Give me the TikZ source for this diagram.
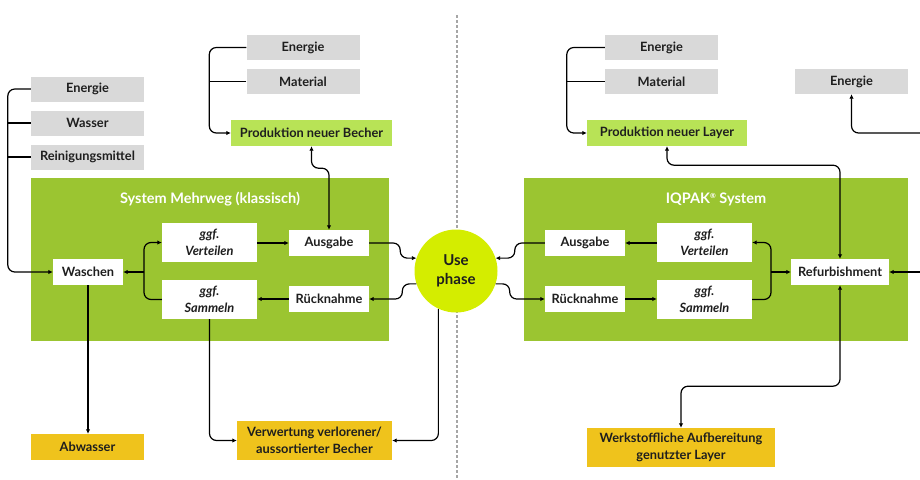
\documentclass[tikz,border=0pt]{standalone}
\usepackage{fontspec}
\setmainfont{Lato}
\usetikzlibrary{arrows.meta,calc}

\definecolor{boxgrey}{HTML}{D9D9D9}
\definecolor{sysgreen}{HTML}{9BC531}
\definecolor{prodgreen}{HTML}{B8E356}
\definecolor{usegreen}{HTML}{D4ED00}
\definecolor{outyellow}{HTML}{EFC31C}
\definecolor{divgrey}{HTML}{A6A6A6}
\definecolor{txt}{HTML}{1E1E1E}

\tikzset{
  base/.style={inner sep=0pt, align=center, text=txt,
    font=\bfseries\fontsize{12.8}{16.5}\selectfont},
  inbox/.style={base, fill=boxgrey, minimum width=113pt, minimum height=25pt},
  prodbox/.style={base, fill=prodgreen, minimum height=26pt},
  stepbox/.style={base, fill=white, minimum height=26pt},
  ggfbox/.style={base, fill=white, minimum width=95pt, minimum height=39pt,
    font=\bfseries\itshape\fontsize{12.8}{16.5}\selectfont},
  outbox/.style={base, fill=outyellow},
  sysbox/.style={fill=sysgreen, inner sep=0pt},
  systitle/.style={base, text=white, font=\bfseries\fontsize{14.5}{17}\selectfont},
  flow/.style={line width=1.2pt, rounded corners=7pt},
  tip/.style={-{Latex[length=4.5pt,width=4.5pt]}},
  tips/.style={{Latex[length=4.5pt,width=4.5pt]}-{Latex[length=4.5pt,width=4.5pt]}}
}

\begin{document}
\begin{tikzpicture}[x=1pt,y=-1pt]
  \useasboundingbox (0,0) rectangle (920,479);

  \draw[divgrey, line width=1.2pt, dash pattern=on 3pt off 2pt] (457,15) -- (457,479);

  \node[sysbox, minimum width=358pt, minimum height=163pt] (sysL) at (210,259.5) {};
  \node[sysbox, minimum width=384pt, minimum height=163pt] (sysR) at (716,259.5) {};
  \node[systitle] (titleL) at (210,199) {System Mehrweg (klassisch)};
  \node[systitle] (titleR) at (716,199)
    {IQPAK\raisebox{4.5pt}{\fontsize{7}{7}\selectfont ®} System};

  \node[inbox] (enL) at (87.5,89) {Energie};
  \node[inbox] (wa) at (87.5,123) {Wasser};
  \node[inbox] (rm) at (87.5,157) {Reinigungsmittel};
  \node[inbox] (enB) at (303,47.5) {Energie};
  \node[inbox] (maB) at (303,81.5) {Material};
  \node[prodbox, minimum width=161pt] (prodB) at (311.5,133) {Produktion neuer Becher};

  \node[stepbox, minimum width=70pt] (wasch) at (88,272) {Waschen};
  \node[ggfbox] (vertL) at (209.5,242.5) {ggf.\\Verteilen};
  \node[ggfbox] (sammL) at (209.5,299.5) {ggf.\\Sammeln};
  \node[stepbox, minimum width=80pt] (ausL) at (329,243) {Ausgabe};
  \node[stepbox, minimum width=80pt] (rueckL) at (329,299) {Rücknahme};

  \node[base, circle, fill=usegreen, minimum size=83pt,
    font=\bfseries\fontsize{15}{19}\selectfont] (use) at (456,271) {Use\\phase};

  \node[outbox, minimum width=113pt, minimum height=26pt] (abw) at (87.5,447) {Abwasser};
  \node[outbox, minimum width=155pt, minimum height=39pt] (verw) at (314.5,440.5)
    {Verwertung verlorener/\\aussortierter Becher};

  \node[inbox] (enR) at (661.5,47.5) {Energie};
  \node[inbox] (maR) at (661.5,81.5) {Material};
  \node[prodbox, minimum width=160pt] (prodL) at (667,133) {Produktion neuer Layer};
  \node[inbox] (enRef) at (851.5,81.5) {Energie};

  \node[stepbox, minimum width=80pt] (ausR) at (585,243) {Ausgabe};
  \node[stepbox, minimum width=80pt] (rueckR) at (585,299) {Rücknahme};
  \node[ggfbox] (vertR) at (704.5,242.5) {ggf.\\Verteilen};
  \node[ggfbox] (sammR) at (704.5,299.5) {ggf.\\Sammeln};
  \node[stepbox, minimum width=98pt] (refurb) at (840,272) {Refurbishment};

  \node[outbox, minimum width=188pt, minimum height=39pt] (werk) at (681,447.5)
    {Werkstoffliche Aufbereitung\\genutzter Layer};

  \coordinate (jL) at (144,272);
  \coordinate (jR) at (771,272);
  \coordinate (edgeA) at (920,133);
  \coordinate (edgeB) at (920,272);

  \draw[flow, tip] (enL.west) -- ++(-23,0) |- (wasch.west);
  \draw[flow] (wa.west) -- ++(-23,0);
  \draw[flow] (rm.west) -- ++(-23,0);
  \draw[flow, tip] (enB.west) -- ++(-37,0) |- (prodB.west);
  \draw[flow] (maB.west) -- ++(-37,0);
  \draw[flow, tips] (prodB.south) -- ++(0,22) -| (ausL.north);

  \draw[flow, tip] (vertL.east |- ausL.west) -- (ausL.west);
  \draw[flow, tip] (rueckL.west) -- (sammL.east |- rueckL.west);
  \draw[flow, tip] (sammL.west) -| (jL) |- (vertL.west);
  \draw[flow, tip] (jL) -- (wasch.east);
  \draw[flow, tip] (ausL.east) -- ++(31,0) |- (use.162);
  \draw[flow, tip] (use.198) -- ++(-14,0) |- (rueckL.east);

  \draw[flow, tip] (wasch.south) -- (wasch.south |- abw.north);
  \draw[flow, tip] (sammL.south) |- (verw.west);
  \draw[flow, tip] (use.245) |- (verw.east);

  \draw[flow, tip] (enR.west) -- ++(-38,0) |- (prodL.west);
  \draw[flow] (maR.west) -- ++(-38,0);
  \draw[flow, tip] (edgeA) -| (enRef.south);

  \draw[flow, tip] (ausR.west) -- ++(-30,0) |- (use.18);
  \draw[flow, tip] (use.-18) -- ++(14,0) |- (rueckR.west);
  \draw[flow, tip] (vertR.west |- ausR.east) -- (ausR.east);
  \draw[flow, tip] (rueckR.east) -- (sammR.west |- rueckR.east);
  \draw[flow, tip] (sammR.east) -| (jR) |- (vertR.east);
  \draw[flow, tip] (jR) -- (refurb.west);
  \draw[flow, tips] (prodL.south) -- ++(0,19) -| (refurb.north);
  \draw[flow, tips] (refurb.south) -- ++(0,101) -| (werk.north);
  \draw[flow, tip] (edgeB) -- (refurb.east);
\end{tikzpicture}
\end{document}
